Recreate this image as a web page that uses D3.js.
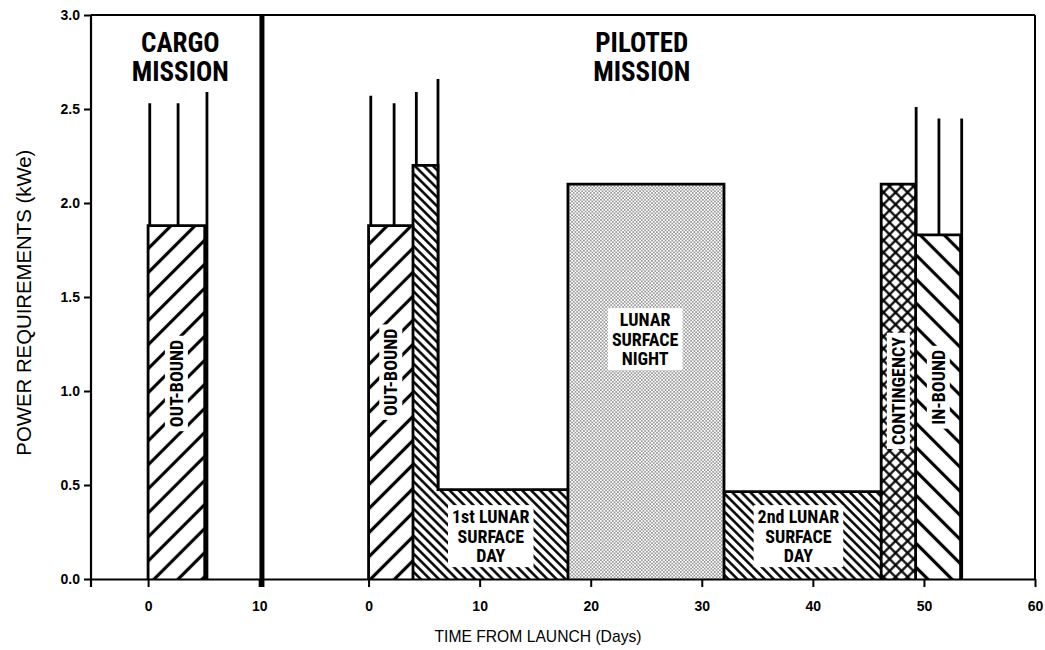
<!DOCTYPE html>
<html>
<head>
<meta charset="utf-8">
<script src="https://cdn.jsdelivr.net/npm/d3@7"></script>
<style>
    body { margin: 0; background: #fff; }
    svg { display: block; }
</style>
</head>
<body>
<div id="container"></div>
<script>
// axis ticks
const yTicks = [0, 0.5, 1.0, 1.5, 2.0, 2.5, 3.0]
const cargoTicks = [0, 10]
const pilotedTicks = [0, 10, 20, 30, 40, 50, 60]

// cargo mission (days from launch, kWe)
const cargoPhases = ["outbound"]
const cargoStart = [0]
const cargoEnd = [5.1]
const cargoPower = [1.88]
const cargoPeakDay = [0.15, 2.7, 5.3]
const cargoPeakPower = [2.53, 2.53, 2.59]

// piloted mission (days from launch, kWe)
const pilotedPhases = ["outbound", "landing", "day1", "night", "day2", "contingency", "inbound"]
const pilotedStart = [0, 4.0, 6.25, 17.95, 32.0, 46.15, 49.25]
const pilotedEnd   = [4.0, 6.25, 17.95, 32.0, 46.15, 49.25, 53.3]
const pilotedPower = [1.88, 2.2, 0.475, 2.1, 0.465, 2.1, 1.83]
const pilotedPeakDay = [0.2, 2.3, 4.3, 6.25, 49.3, 51.35, 53.4]
const pilotedPeakPower = [2.57, 2.53, 2.59, 2.66, 2.51, 2.45, 2.45]

const phaseLabels = {
    outbound: ["OUT-BOUND"],
    day1: ["1st LUNAR", "SURFACE", "DAY"],
    night: ["LUNAR", "SURFACE", "NIGHT"],
    day2: ["2nd LUNAR", "SURFACE", "DAY"],
    contingency: ["CONTINGENCY"],
    inbound: ["IN-BOUND"]
}

let width = 1045
let height = 650
let margin = {top: 15, right: 10, bottom: 71, left: 91}
let pilotedOffset = 19.85   // piloted day 0 sits this far right of cargo day 0
let narrow = "'Liberation Sans Narrow', 'Arial Narrow', 'Roboto Condensed', sans-serif"
let plain = "'Liberation Sans', Arial, sans-serif"

let svg = d3.select("#container")
    .append("svg")
    .attr("width", width)
    .attr("height", height)

let x = d3.scaleLinear()
    .domain([-5.14, 60 + pilotedOffset])
    .range([margin.left, width - margin.right])
let xCargo = d => x(d)
let xPiloted = d => x(d + pilotedOffset)
let pilotedScale = x.copy().domain(x.domain().map(d => d - pilotedOffset))

let y = d3.scaleLinear()
    .domain([0, 3])
    .range([height - margin.bottom, margin.top])

// fill patterns
let defs = svg.append("defs")
function hatch(id, angle, gap, lw, cross) {
    let p = defs.append("pattern")
        .attr("id", id)
        .attr("patternUnits", "userSpaceOnUse")
        .attr("width", gap).attr("height", gap)
        .attr("patternTransform", `rotate(${angle})`)
    p.append("rect").attr("width", gap).attr("height", gap).attr("fill", "#fff")
    p.append("line")
        .attr("x1", gap / 2).attr("x2", gap / 2).attr("y1", -1).attr("y2", gap + 1)
        .attr("stroke", "#000").attr("stroke-width", lw)
    if (cross) {
        p.append("line")
            .attr("y1", gap / 2).attr("y2", gap / 2).attr("x1", -1).attr("x2", gap + 1)
            .attr("stroke", "#000").attr("stroke-width", lw)
    }
}
hatch("fwd", 45, 17, 3.2)
hatch("back", -45, 17, 3.2)
hatch("dense", -45, 6.4, 2.5)
hatch("cross", 45, 8.5, 2.2, true)
let dots = defs.append("pattern")
    .attr("id", "dots")
    .attr("patternUnits", "userSpaceOnUse")
    .attr("width", 3.4).attr("height", 3.4)
dots.append("rect").attr("width", 3.4).attr("height", 3.4).attr("fill", "#fff")
dots.append("circle").attr("cx", 0.85).attr("cy", 0.85).attr("r", 0.62).attr("fill", "#000")
dots.append("circle").attr("cx", 2.55).attr("cy", 2.55).attr("r", 0.62).attr("fill", "#000")

let patternFor = {
    outbound: "fwd", landing: "dense", day1: "dense", night: "dots",
    day2: "dense", contingency: "cross", inbound: "back"
}

// label centres in (day, kWe)
let cargoLabelAt = {outbound: [2.55, 1.04]}
let pilotedLabelAt = {
    outbound: [2.0, 1.1],
    day1: [11.0, 0.228],
    night: [24.9, 1.276],
    day2: [38.7, 0.228],
    contingency: [47.7, 1.0],
    inbound: [51.3, 1.02]
}

function drawMission(phases, starts, ends, powers, peakDays, peakPowers, xs, labelAt) {
    let g = svg.append("g")

    // peak spikes (lower part hidden by bars)
    g.append("g")
        .selectAll("line")
        .data(peakDays)
        .join("line")
            .attr("x1", d => xs(d)).attr("x2", d => xs(d))
            .attr("y1", y(0))
            .attr("y2", (d, i) => y(peakPowers[i]))
            .attr("stroke", "#000")
            .attr("stroke-width", 2.8)

    // bar fills
    g.append("g")
        .selectAll("rect")
        .data(phases)
        .join("rect")
            .attr("x", (d, i) => xs(starts[i]))
            .attr("y", (d, i) => y(powers[i]))
            .attr("width", (d, i) => xs(ends[i]) - xs(starts[i]))
            .attr("height", (d, i) => y(0) - y(powers[i]))
            .attr("fill", d => `url(#${patternFor[d]})`)

    // outline: stepped profile plus dividers between different fills
    let pts = [[starts[0], 0]]
    phases.forEach((d, i) => {
        pts.push([starts[i], powers[i]], [ends[i], powers[i]])
    })
    pts.push([ends[ends.length - 1], 0])
    let line = d3.line().x(d => xs(d[0])).y(d => y(d[1]))
    g.append("path")
        .attr("d", line(pts))
        .attr("fill", "none")
        .attr("stroke", "#000")
        .attr("stroke-width", 2.8)
        .attr("stroke-linejoin", "miter")
    for (let i = 0; i < phases.length - 1; i++) {
        if (patternFor[phases[i]] === patternFor[phases[i + 1]]) continue
        g.append("line")
            .attr("x1", xs(ends[i])).attr("x2", xs(ends[i]))
            .attr("y1", y(0))
            .attr("y2", y(Math.min(powers[i], powers[i + 1])))
            .attr("stroke", "#000")
            .attr("stroke-width", 2.8)
    }

    // labels in white boxes
    phases.forEach(d => {
        let lines = phaseLabels[d]
        if (!lines || !labelAt[d]) return
        let [ld, lp] = labelAt[d]
        let fs = 18, lh = 19.5
        let vertical = lines.length === 1
        let lg = g.append("g")
            .attr("transform", `translate(${xs(ld)},${y(lp)})` + (vertical ? " rotate(-90)" : ""))
        let box = lg.append("rect").attr("fill", "#fff")
        let t = lg.append("text")
            .attr("text-anchor", "middle")
            .attr("font-family", narrow)
            .attr("font-weight", "bold")
            .attr("font-size", fs)
        lines.forEach((s, k) => {
            t.append("tspan")
                .attr("x", 0)
                .attr("y", (k - (lines.length - 1) / 2) * lh + 0.36 * fs)
                .text(s)
        })
        let bb = t.node().getBBox()
        box.attr("x", bb.x - 4).attr("y", bb.y - 1)
            .attr("width", bb.width + 8).attr("height", bb.height + 2)
    })
}

drawMission(cargoPhases, cargoStart, cargoEnd, cargoPower, cargoPeakDay, cargoPeakPower, xCargo, cargoLabelAt)
drawMission(pilotedPhases, pilotedStart, pilotedEnd, pilotedPower, pilotedPeakDay, pilotedPeakPower, xPiloted, pilotedLabelAt)

// frame: top and right border, separator between missions
svg.append("line")
    .attr("x1", margin.left).attr("x2", width - margin.right)
    .attr("y1", y(3)).attr("y2", y(3))
    .attr("stroke", "#000").attr("stroke-width", 2.2)
svg.append("line")
    .attr("x1", width - margin.right).attr("x2", width - margin.right)
    .attr("y1", y(3)).attr("y2", y(0))
    .attr("stroke", "#000").attr("stroke-width", 2)
svg.append("line")
    .attr("x1", xCargo(10.25)).attr("x2", xCargo(10.25))
    .attr("y1", y(3)).attr("y2", y(0) + 8)
    .attr("stroke", "#000").attr("stroke-width", 5)

// axes
function styleAxis(g) {
    g.selectAll("path, line").attr("stroke", "#000").attr("stroke-width", 2)
    g.selectAll("text")
        .attr("font-family", plain)
        .attr("font-weight", "bold")
        .attr("font-size", 14)
        .attr("fill", "#000")
}

svg.append("g")
    .attr("transform", `translate(0,${y(0)})`)
    .call(d3.axisBottom(pilotedScale).tickValues(pilotedTicks).tickSize(8).tickSizeOuter(0).tickPadding(14))
    .call(styleAxis)

svg.append("g")
    .attr("transform", `translate(0,${y(0)})`)
    .call(d3.axisBottom(x).tickValues(cargoTicks).tickSize(8).tickPadding(14))
    .call(g => g.select(".domain").remove())
    .call(styleAxis)

svg.append("g")
    .attr("transform", `translate(${margin.left},0)`)
    .call(d3.axisLeft(y).tickValues(yTicks).tickFormat(d3.format(".1f")).tickSize(7).tickPadding(4))
    .call(g => g.select(".domain").remove())
    .call(styleAxis)
    .call(g => g.append("line")
        .attr("x1", 0).attr("x2", 0)
        .attr("y1", y(3)).attr("y2", y(0) + 8)
        .attr("stroke", "#000").attr("stroke-width", 2.2))

// axis titles
svg.append("text")
    .attr("x", 538)
    .attr("y", 642)
    .attr("text-anchor", "middle")
    .attr("font-family", plain)
    .attr("font-size", 17)
    .attr("textLength", 207)
    .attr("lengthAdjust", "spacingAndGlyphs")
    .text("TIME FROM LAUNCH (Days)")

svg.append("text")
    .attr("transform", `translate(31,${y(1.47)}) rotate(-90)`)
    .attr("text-anchor", "middle")
    .attr("font-family", plain)
    .attr("font-size", 20)
    .attr("textLength", 306)
    .attr("lengthAdjust", "spacingAndGlyphs")
    .text("POWER REQUIREMENTS (kWe)")

// mission headings
function heading(cx, words) {
    svg.append("text")
        .attr("text-anchor", "middle")
        .attr("font-family", narrow)
        .attr("font-weight", "bold")
        .attr("font-size", 27)
        .selectAll("tspan")
        .data(words)
        .join("tspan")
            .attr("x", cx)
            .attr("y", (d, i) => 52 + i * 29)
            .text(d => d)
}
heading(xCargo(2.9), ["CARGO", "MISSION"])
heading(xPiloted(24.6), ["PILOTED", "MISSION"])
</script>
</body>
</html>
